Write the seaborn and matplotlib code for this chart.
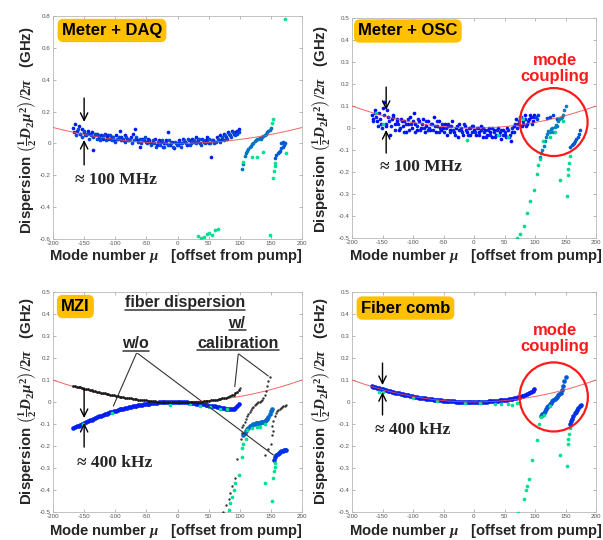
import numpy as np
import pandas as pd
import matplotlib
matplotlib.use("Agg")
import matplotlib.pyplot as plt
import seaborn as sns
from matplotlib.patches import Ellipse
from matplotlib.lines import Line2D
from matplotlib.ticker import FuncFormatter, MultipleLocator

# ---------------- data ----------------
RED_MU = [-200, -180, -160, -140, -120, -100, -80, -60, -40, -20, 0,
          20, 40, 60, 80, 100, 120, 140, 160, 180, 200]
RED_Y = [0.100, 0.081, 0.064, 0.049, 0.036, 0.025, 0.016, 0.009, 0.004, 0.001, 0.0,
         0.001, 0.004, 0.009, 0.016, 0.025, 0.036, 0.049, 0.064, 0.081, 0.100]

MU_A = list(range(-168, 100, 3))   # 90 modes
MU_B = list(range(-166, 99, 3))    # 89 modes

# Panel 1: Meter + DAQ
TL_P1 = [0.10, 0.12, 0.08, 0.11, 0.06, 0.09, 0.07, 0.05, 0.08, 0.06,
         0.07, -0.04, 0.05, 0.06, 0.04, 0.05, 0.03, 0.06, 0.04, 0.05,
         0.03, 0.04, 0.02, 0.05, 0.03, 0.08, 0.04, 0.02, 0.05, 0.03,
         0.02, 0.04, 0.06, 0.09, 0.03, 0.02, -0.02, 0.03, 0.02, 0.01,
         0.03, 0.02, 0.0, 0.01, 0.03, -0.01, 0.02, 0.01, -0.02, 0.0,
         0.02, 0.07, -0.01, 0.01, -0.03, 0.0, -0.01, 0.02, 0.0, 0.03,
         0.01, -0.01, 0.02, 0.0, 0.03, 0.01, 0.04, 0.02, 0.0, 0.03,
         0.01, 0.02, 0.04, 0.0, -0.085, 0.02, 0.01, 0.04, 0.02, 0.05,
         0.03, 0.06, 0.04, 0.07, 0.05, 0.08, 0.06, 0.07, 0.08, 0.09]
TL_P2 = [0.07, 0.05, 0.09, 0.06, 0.04, 0.08, 0.05, 0.06, 0.03, 0.05,
         0.04, 0.06, 0.03, 0.05, 0.02, 0.04, 0.05, 0.02, 0.03, 0.05,
         0.02, 0.04, 0.01, 0.03, 0.04, 0.02, 0.03, 0.01, 0.04, 0.02,
         0.03, 0.0, 0.02, 0.04, 0.01, 0.03, 0.0, 0.02, 0.04, 0.0,
         0.01, -0.01, 0.02, 0.0, -0.02, 0.01, -0.01, 0.02, -0.02, 0.0,
         -0.01, 0.02, 0.0, -0.02, 0.01, -0.01, 0.01, -0.02, 0.0, 0.02,
         0.0, 0.03, -0.01, 0.01, 0.02, 0.0, 0.01, 0.03, -0.01, 0.02,
         0.0, 0.01, 0.03, 0.0, 0.02, 0.0, 0.01, 0.03, 0.01, 0.04,
         0.02, 0.05, 0.03, 0.06, 0.04, 0.07, 0.05, 0.06, 0.07]
TL_BR1_MU = [104, 106, 108, 110, 112, 114, 116, 118, 120, 122, 124, 126,
             128, 130, 132, 134, 136, 138, 140, 142, 144, 146, 148, 150]
TL_BR1_Y = [-0.16, -0.13, -0.08, -0.06, -0.05, -0.035, -0.025, -0.015, -0.005, 0.005, 0.015, 0.02,
            0.025, 0.03, 0.035, 0.03, 0.04, 0.045, 0.05, 0.06, 0.07, 0.075, 0.085, 0.095]
TL_BR2_MU = [157, 159, 161, 163, 165, 167, 169, 171, 173, 167, 170]
TL_BR2_Y = [-0.09, -0.07, -0.06, -0.055, -0.045, -0.03, -0.02, -0.01, 0.0, 0.0, 0.01]
TL_OUT_MU = [106, 119, 127, 138, 152, 153, 154, 155, 156, 157, 175,
             33, 38, 42, 47, 50, 55, 60, 65, 148, 172]
TL_OUT_Y = [-0.115, -0.083, -0.083, -0.052, 0.13, 0.155, -0.22, -0.17, -0.14, -0.12, -0.06,
            -0.58, -0.595, -0.59, -0.57, -0.565, -0.575, -0.545, -0.537, -0.577, 0.78]

# Panel 2: Meter + OSC
TR_P1 = [0.06, 0.04, 0.08, 0.03, 0.07, 0.02, 0.09, 0.12, 0.01, 0.05,
         -0.03, 0.04, 0.06, 0.02, 0.03, -0.01, 0.04, 0.01, 0.03, -0.02,
         0.02, 0.05, 0.0, 0.07, 0.02, -0.01, 0.03, 0.0, 0.04, -0.02,
         0.01, 0.03, -0.01, 0.02, 0.05, -0.02, 0.01, 0.03, -0.01, 0.0,
         0.02, -0.03, 0.01, -0.01, 0.03, -0.02, 0.0, -0.04, 0.02, -0.01,
         -0.03, 0.01, -0.02, 0.0, -0.03, 0.01, -0.01, -0.03, 0.0, -0.02,
         0.01, -0.04, -0.01, -0.03, 0.0, -0.02, -0.04, -0.01, -0.03, 0.0,
         -0.02, -0.05, -0.01, -0.03, 0.0, -0.04, -0.06, -0.02, 0.01, 0.04,
         0.02, 0.05, 0.01, 0.03, 0.06, 0.02, 0.04, 0.05, 0.03, 0.06]
TR_P2 = [0.03, 0.07, 0.05, 0.01, 0.04, 0.0, 0.06, 0.02, 0.08, 0.03,
         0.01, 0.05, -0.01, 0.04, 0.02, 0.0, 0.03, -0.02, 0.02, 0.04,
         -0.01, 0.02, 0.03, -0.02, 0.01, 0.04, -0.01, 0.02, 0.0, 0.03,
         -0.01, 0.0, 0.02, -0.01, 0.01, 0.03, -0.02, 0.0, 0.02, -0.02,
         0.0, 0.02, -0.02, 0.01, -0.01, -0.03, 0.01, -0.01, 0.0, -0.02,
         0.02, -0.01, -0.03, 0.0, -0.02, 0.01, -0.02, 0.0, -0.03, -0.01,
         0.0, -0.02, -0.04, -0.01, -0.03, 0.0, -0.02, -0.04, -0.01, -0.03,
         -0.01, -0.03, -0.02, -0.04, -0.01, -0.03, 0.0, -0.02, 0.02, 0.0,
         0.03, 0.05, 0.02, 0.04, 0.01, 0.03, 0.06, 0.02, 0.05]
TR_EXTRA_MU = [101, 103, 105, 120, 124, 130, 136]
TR_EXTRA_Y = [0.05, 0.04, 0.06, 0.045, 0.05, 0.06, 0.04]
TR_BR1_MU = [108, 110, 112, 114, 116, 118, 120, 122, 124, 126, 128,
             130, 132, 134, 136, 138, 140, 142, 144, 146, 148, 150]
TR_BR1_Y = [-0.13, -0.115, -0.10, -0.08, -0.06, -0.04, -0.025, -0.012, -0.02, -0.005, 0.0,
            -0.02, 0.005, 0.015, 0.01, 0.03, 0.04, 0.045, 0.05, 0.06, 0.08, 0.10]
TR_BR2_MU = [158, 160, 162, 164, 166, 168, 170, 172, 174]
TR_BR2_Y = [-0.085, -0.078, -0.072, -0.066, -0.06, -0.05, -0.04, -0.025, -0.01]
TR_OUT_MU = [-160, -149, -12, 40, 55, 75, 80, 113, 125, 132, 146,
             108, 105, 103, 98, 92, 87, 82, 76, 71,
             157, 155, 154, 154, 141, 152]
TR_OUT_Y = [0.07, 0.02, -0.055, -0.03, -0.04, 0.05, 0.04, -0.06, -0.04, -0.02, 0.03,
            -0.14, -0.17, -0.21, -0.28, -0.33, -0.385, -0.445, -0.48, -0.50,
            -0.125, -0.16, -0.185, -0.215, -0.236, -0.31]

# Panel 3: MZI
BL_BLACK = [0.074, 0.072, 0.070, 0.068, 0.066, 0.063, 0.061, 0.059, 0.057, 0.055,
            0.053, 0.051, 0.049, 0.047, 0.045, 0.043, 0.041, 0.039, 0.037, 0.035,
            0.033, 0.031, 0.030, 0.028, 0.026, 0.025, 0.023, 0.022, 0.020, 0.019,
            0.017, 0.016, 0.015, 0.013, 0.012, 0.011, 0.010, 0.009, 0.008, 0.007,
            0.006, 0.005, 0.004, 0.004, 0.003, 0.002, 0.002, 0.001, 0.001, 0.000,
            0.000, 0.000, -0.001, -0.001, -0.001, -0.001, -0.001, -0.001, -0.001, -0.001,
            -0.001, -0.001, -0.001, 0.000, 0.000, 0.000, 0.001, 0.001, 0.002, 0.002,
            0.003, 0.004, 0.005, 0.006, 0.007, 0.008, 0.009, 0.011, 0.012, 0.014,
            0.016, 0.018, 0.020, 0.023, 0.026, 0.030, 0.034, 0.039, 0.046, 0.055]
BL_BLUE = [-0.118, -0.114, -0.111, -0.107, -0.103, -0.099, -0.095, -0.091, -0.087, -0.083,
           -0.080, -0.076, -0.072, -0.069, -0.065, -0.062, -0.059, -0.056, -0.053, -0.050,
           -0.047, -0.044, -0.042, -0.039, -0.037, -0.034, -0.032, -0.030, -0.028, -0.026,
           -0.024, -0.022, -0.020, -0.018, -0.016, -0.015, -0.013, -0.012, -0.010, -0.009,
           -0.008, -0.007, -0.006, -0.005, -0.004, -0.003, -0.002, -0.002, -0.001, -0.001,
           0.000, 0.000, 0.000, 0.000, 0.000, 0.000, 0.000, 0.000, -0.001, -0.001,
           -0.002, -0.002, -0.003, -0.004, -0.005, -0.006, -0.007, -0.008, -0.009, -0.010,
           -0.011, -0.013, -0.014, -0.016, -0.017, -0.019, -0.020, -0.022, -0.024, -0.025,
           -0.027, -0.029, -0.030, -0.032, -0.033, -0.033, -0.031, -0.027, -0.020, -0.010]
BL_BLK_BR_MU = [104, 106, 108, 110, 112, 114, 116, 118, 120, 122, 124, 126, 128, 130,
                132, 134, 136, 138, 140, 142, 144, 146, 148,
                152, 154, 156, 158, 160, 162, 164, 166, 168, 170, 172, 174,
                104, 102, 96, 92, 88, 85, 82, 78, 73, 153, 152, 150, 146, 141, 101]
BL_BLK_BR_Y = [-0.115, -0.105, -0.092, -0.078, -0.065, -0.055, -0.045, -0.036, -0.028, -0.021,
               -0.015, -0.010, -0.006, -0.002, 0.002, 0.006, 0.010, 0.018, 0.032, 0.050,
               0.072, 0.095, 0.115,
               -0.11, -0.085, -0.062, -0.05, -0.042, -0.036, -0.031, -0.027, -0.023, -0.019,
               -0.016, -0.013,
               -0.14, -0.17, -0.26, -0.345, -0.38, -0.415, -0.44, -0.47, -0.50,
               -0.13, -0.15, -0.19, -0.215, -0.24, 0.062]
BL_BR1_MU = [106, 108, 110, 112, 114, 116, 118, 120, 122, 124, 126, 128,
             130, 132, 134, 136, 138, 140, 142, 144, 146, 148, 150, 152]
BL_BR1_Y = [-0.150, -0.140, -0.130, -0.122, -0.116, -0.111, -0.107, -0.104, -0.101, -0.099, -0.097, -0.096,
            -0.095, -0.094, -0.093, -0.092, -0.090, -0.087, -0.082, -0.075, -0.066, -0.055, -0.043, -0.032]
BL_BR2_MU = [155, 157, 159, 161, 163, 165, 167, 169, 171, 173, 175]
BL_BR2_Y = [-0.262, -0.250, -0.242, -0.236, -0.230, -0.226, -0.223, -0.221, -0.220, -0.219, -0.219]
BL_OUT_MU = [-152, -106, -12, 20, 36, 52, 68, 79,
             112, 120, 127, 133, 140,
             110, 106, 103, 103, 98, 93, 90, 87, 84, 82,
             157, 156, 155, 154, 141, 152]
BL_OUT_Y = [-0.10, -0.05, -0.014, -0.011, -0.018, -0.024, -0.033, -0.033,
            -0.125, -0.118, -0.112, -0.113, -0.10,
            -0.17, -0.19, -0.21, -0.25, -0.33, -0.37, -0.40, -0.43, -0.46, -0.49,
            -0.275, -0.295, -0.315, -0.345, -0.37, -0.45]

# Panel 4: Fiber comb
BR_MAIN = [0.072, 0.070, 0.068, 0.065, 0.063, 0.060, 0.058, 0.056, 0.054, 0.051,
           0.049, 0.047, 0.045, 0.043, 0.041, 0.039, 0.037, 0.035, 0.033, 0.031,
           0.030, 0.028, 0.026, 0.025, 0.023, 0.022, 0.020, 0.019, 0.018, 0.016,
           0.015, 0.014, 0.013, 0.012, 0.011, 0.010, 0.009, 0.008, 0.007, 0.006,
           0.006, 0.005, 0.004, 0.004, 0.003, 0.003, 0.002, 0.002, 0.001, 0.001,
           0.001, 0.000, 0.000, 0.000, 0.000, 0.000, 0.000, 0.000, 0.000, 0.001,
           0.001, 0.001, 0.002, 0.002, 0.003, 0.003, 0.004, 0.005, 0.005, 0.006,
           0.007, 0.008, 0.009, 0.010, 0.011, 0.012, 0.014, 0.015, 0.017, 0.019,
           0.021, 0.023, 0.026, 0.029, 0.033, 0.037, 0.041, 0.046, 0.052, 0.059]
BR_BR1_MU = [110, 112, 114, 116, 118, 120, 122, 124, 126, 128, 130,
             132, 134, 136, 138, 140, 142, 144, 146, 148, 150]
BR_BR1_Y = [-0.065, -0.055, -0.048, -0.040, -0.032, -0.024, -0.016, -0.009, -0.003, 0.003, 0.009,
            0.015, 0.020, 0.025, 0.030, 0.036, 0.043, 0.055, 0.075, 0.095, 0.113]
BR_BR2_MU = [157, 159, 161, 163, 165, 167, 169, 171, 173, 175]
BR_BR2_Y = [-0.10, -0.088, -0.075, -0.062, -0.052, -0.044, -0.036, -0.028, -0.020, -0.013]
BR_OUT_MU = [-155, -150, -100, -60, -14, 10, 35, 45, 55, 62, 70,
             110, 115, 125, 106, 103, 95, 90, 87.5, 86, 82, 72,
             157, 155, 154, 154, 141, 152]
BR_OUT_Y = [0.047, 0.045, 0.02, 0.004, -0.006, -0.005, -0.008, -0.01, -0.008, -0.012, -0.005,
            -0.07, -0.06, -0.02, -0.098, -0.174, -0.265, -0.348, -0.38, -0.40, -0.44, -0.505,
            -0.12, -0.144, -0.17, -0.19, -0.242, -0.29]

assert len(TL_P1) == len(MU_A) and len(TL_P2) == len(MU_B)
assert len(TR_P1) == len(MU_A) and len(TR_P2) == len(MU_B)
assert len(BL_BLACK) == len(MU_A) and len(BL_BLUE) == len(MU_A) and len(BR_MAIN) == len(MU_A)

# ---------------- style ----------------
sns.set_theme(style="white")
plt.rcParams['font.family'] = ['Liberation Sans', 'DejaVu Sans']
plt.rcParams['mathtext.fontset'] = 'custom'
plt.rcParams['mathtext.rm'] = 'Liberation Serif:bold'
plt.rcParams['mathtext.it'] = 'Liberation Serif:italic:bold'
plt.rcParams['mathtext.bf'] = 'Liberation Serif:bold'

W, H = 603, 540
fig = plt.figure(figsize=(W / 100, H / 100), dpi=100)
fig.patch.set_facecolor('white')


def px_axes(x0, x1, ytop, ybot):
    return fig.add_axes([x0 / W, 1 - ybot / H, (x1 - x0) / W, (ybot - ytop) / H])


axTL = px_axes(53, 302, 16, 239)
axTR = px_axes(352, 596, 18, 238)
axBL = px_axes(53, 302, 292, 512)
axBR = px_axes(352, 596, 292, 512)

cmap = plt.cm.winter


def dots(ax, mu, y, c, s=6, color=None, z=3):
    col = color if color is not None else cmap(c)
    sns.scatterplot(x=mu, y=y, color=col, s=s, linewidth=0, ax=ax, zorder=z, legend=False)


def fmt(v, p):
    if abs(v) < 1e-9:
        return "0"
    return f"{round(v, 2):g}"


def style(ax, ylim, ystep):
    sns.lineplot(x=RED_MU, y=RED_Y, color='#f04848', lw=0.7, alpha=0.85, ax=ax, zorder=4)
    ax.set_xlim(-200, 200)
    ax.set_ylim(*ylim)
    ax.xaxis.set_major_locator(MultipleLocator(50))
    ax.yaxis.set_major_locator(MultipleLocator(ystep))
    ax.xaxis.set_major_formatter(FuncFormatter(fmt))
    ax.yaxis.set_major_formatter(FuncFormatter(fmt))
    ax.tick_params(direction='in', length=2, width=0.5, colors='#999999', labelcolor='#555555',
                   labelsize=4.5, pad=1.5, top=True, right=True, bottom=True, left=True)
    for sp in ax.spines.values():
        sp.set_color('#b8b8b8')
        sp.set_linewidth(0.6)
    ax.set_xlabel('')
    ax.set_ylabel('')
    ax.set_facecolor('white')


def badge(ax, fx, fy, txt):
    ax.text(fx, fy, txt, transform=ax.transAxes, ha='center', va='center', fontsize=12,
            fontweight='bold', color='black', zorder=10,
            bbox=dict(boxstyle='round,pad=0.25,rounding_size=0.35', fc='#FFC000', ec='none'))


def arrows(ax, x, top, top_head, bot, bot_head):
    ap = dict(arrowstyle='->,head_length=0.45,head_width=0.22', lw=1.0, color='black',
              shrinkA=0, shrinkB=0)
    ax.annotate('', xy=(x, top_head), xytext=(x, top), arrowprops=ap, zorder=11)
    ax.annotate('', xy=(x, bot_head), xytext=(x, bot), arrowprops=ap, zorder=11)


def approx(ax, fx, fy, txt):
    ax.text(fx, fy, txt, transform=ax.transAxes, ha='left', va='center', fontsize=12.5,
            family=['Liberation Serif', 'DejaVu Serif'], fontweight='bold', zorder=10)


def coupling(ax, fy, cx, cy, w, h):
    ax.text(0.83, fy, 'mode\ncoupling', transform=ax.transAxes, ha='center', va='center',
            fontsize=12, fontweight='bold', color='#ff1a1a', linespacing=1.15, zorder=10)
    ax.add_patch(Ellipse((cx, cy), w, h, fill=False, ec='#ff1a1a', lw=1.6, zorder=9))


# ---- Panel TL ----
dots(axTL, MU_A, TL_P1, 0.12, s=7)
dots(axTL, MU_B, TL_P2, 0.28, s=7)
dots(axTL, TL_BR1_MU, TL_BR1_Y, 0.45, s=7)
dots(axTL, TL_BR2_MU, TL_BR2_Y, 0.35, s=7)
dots(axTL, TL_OUT_MU, TL_OUT_Y, 0.88, s=7)
style(axTL, (-0.6, 0.8), 0.2)
badge(axTL, 0.237, 0.935, 'Meter + DAQ')
arrows(axTL, -150, 0.285, 0.135, -0.135, 0.022)
approx(axTL, 0.088, 0.265, '≈ 100 MHz')

# ---- Panel TR ----
dots(axTR, MU_A, TR_P1, 0.04, s=7)
dots(axTR, MU_B, TR_P2, 0.12, s=7)
dots(axTR, TR_EXTRA_MU, TR_EXTRA_Y, 0.25, s=7)
dots(axTR, TR_BR1_MU, TR_BR1_Y, 0.5, s=7)
dots(axTR, TR_BR2_MU, TR_BR2_Y, 0.35, s=7)
dots(axTR, TR_OUT_MU, TR_OUT_Y, 0.85, s=7)
style(axTR, (-0.5, 0.5), 0.1)
badge(axTR, 0.229, 0.941, 'Meter + OSC')
arrows(axTR, -144, 0.186, 0.082, -0.114, -0.009)
approx(axTR, 0.115, 0.323, '≈ 100 MHz')
coupling(axTR, 0.770, 130.7, 0.027, 111, 0.309)

# ---- Panel BL ----
dots(axBL, MU_A, BL_BLUE, 0.12, s=11)
dots(axBL, BL_BR1_MU, BL_BR1_Y, 0.42, s=11)
dots(axBL, BL_BR2_MU, BL_BR2_Y, 0.2, s=11)
dots(axBL, BL_OUT_MU, BL_OUT_Y, 0.88, s=7)
dots(axBL, MU_A, BL_BLACK, 0, s=4, color='#1a1a1a', z=5)
dots(axBL, BL_BLK_BR_MU, BL_BLK_BR_Y, 0, s=3, color='#333333', z=5)
style(axBL, (-0.5, 0.5), 0.1)
badge(axBL, 0.090, 0.934, 'MZI')
arrows(axBL, -150, 0.064, -0.073, -0.205, -0.095)
approx(axBL, 0.096, 0.223, '≈ 400 kHz')
t1 = axBL.text(0.530, 0.950, 'fiber dispersion', transform=axBL.transAxes, ha='center',
               va='center', fontsize=11.5, fontweight='bold', zorder=10)
t2 = axBL.text(0.333, 0.764, 'w/o', transform=axBL.transAxes, ha='center',
               va='center', fontsize=11.5, fontweight='bold', zorder=10)
t3 = axBL.text(0.739, 0.859, 'w/', transform=axBL.transAxes, ha='center',
               va='center', fontsize=11.5, fontweight='bold', zorder=10)
t4 = axBL.text(0.743, 0.768, 'calibration', transform=axBL.transAxes, ha='center',
               va='center', fontsize=11.5, fontweight='bold', zorder=10)
lp = dict(arrowstyle='-', lw=0.8, color='#333333', shrinkA=0, shrinkB=0)
axBL.annotate('', xy=(-103, -0.018), xytext=(-66, 0.221), arrowprops=lp)
axBL.annotate('', xy=(154, -0.241), xytext=(-64, 0.221), arrowprops=lp)
axBL.annotate('', xy=(92, 0.07), xytext=(97.6, 0.218), arrowprops=lp)
axBL.annotate('', xy=(146, 0.118), xytext=(98.5, 0.218), arrowprops=lp)

# ---- Panel BR ----
dots(axBR, MU_A, BR_MAIN, 0.12, s=11)
dots(axBR, BR_BR1_MU, BR_BR1_Y, 0.35, s=11)
dots(axBR, BR_BR2_MU, BR_BR2_Y, 0.18, s=11)
dots(axBR, BR_OUT_MU, BR_OUT_Y, 0.88, s=7)
style(axBR, (-0.5, 0.5), 0.1)
badge(axBR, 0.219, 0.927, 'Fiber comb')
arrows(axBR, -150, 0.177, 0.077, -0.059, 0.045)
approx(axBR, 0.095, 0.373, '≈ 400 kHz')
coupling(axBR, 0.789, 130.7, 0.023, 112, 0.314)

# ---- axis labels ----
YLABEL = r"Dispersion $\left(\frac{1}{2}D_2\mu^2\right)/2\pi$   (GHz)"
XLABEL = r"Mode number $\mu$   [offset from pump]"
for (x, y) in [(28, 130), (322, 129), (28, 401), (322, 401)]:
    fig.text(x / W, 1 - y / H, YLABEL, rotation=90, ha='center', va='center',
             fontsize=10.8, fontweight='bold')
for (x, y) in [(176, 256), (476, 256), (176, 531), (476, 531)]:
    fig.text(x / W, 1 - y / H, XLABEL, ha='center', va='center', fontsize=10.6,
             fontweight='bold')

# underlines for the MZI annotations
fig.canvas.draw()
rend = fig.canvas.get_renderer()
inv = fig.transFigure.inverted()
for t in (t1, t2, t3, t4):
    bb = t.get_window_extent(rend)
    (x0, y0), (x1, _) = inv.transform([(bb.x0, bb.y0 + 0.5), (bb.x1, bb.y0)])
    fig.add_artist(Line2D([x0, x1], [y0, y0], transform=fig.transFigure, color='#333333', lw=1.1))

fig.savefig('out.png', dpi=100, facecolor='white')
